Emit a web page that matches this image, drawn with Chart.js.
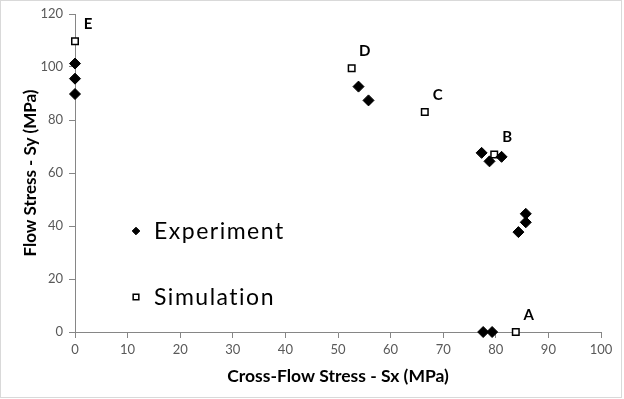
<!DOCTYPE html>
<html>
<head>
<meta charset="utf-8">
<script src="https://cdn.jsdelivr.net/npm/chart.js@4.4.0/dist/chart.umd.min.js"></script>
<style>
  html, body { margin: 0; padding: 0; background: #fff; }
  #wrap { position: relative; width: 624px; height: 399px; }
</style>
</head>
<body>
<div id="wrap"><canvas id="stressChart"></canvas></div>
<script>
// Experiment points (Sx, Sy in MPa)
const expX = [0, 0, 0, 53.9, 55.8, 77.3, 78.8, 81.1, 85.7, 85.7, 84.3, 77.6, 79.3];
const expY = [101.3, 95.6, 89.8, 92.6, 87.4, 67.6, 64.4, 66.1, 44.6, 41.4, 37.7, 0, 0];

// Simulation points, with their letter tags
const simX = [83.8, 79.7, 66.5, 52.6, 0];
const simY = [0, 67, 83, 99.5, 109.7];
const simTags = ['A', 'B', 'C', 'D', 'E'];

const seriesNames = ['Experiment', 'Simulation'];
const xTitle = 'Cross-Flow Stress - Sx (MPa)';
const yTitle = 'Flow Stress - Sy (MPa)';

const FONT = 'Lato';
const axisGray = '#868686';

const toPoints = (xs, ys) => xs.map((x, i) => ({ x: x, y: ys[i] }));

// letters next to simulation points
const tagPlugin = {
    id: 'tags',
    afterDatasetsDraw(chart) {
        const ctx = chart.ctx;
        const meta = chart.getDatasetMeta(1);
        ctx.save();
        ctx.fillStyle = '#000';
        ctx.font = 'bold 15px ' + FONT;
        ctx.textAlign = 'center';
        ctx.textBaseline = 'middle';
        meta.data.forEach((el, i) => {
            ctx.fillText(simTags[i], el.x + 13, el.y - 17);
        });
        ctx.restore();
    }
};

// legend sits inside the plot, left middle
const legendPlugin = {
    id: 'innerLegend',
    afterDraw(chart) {
        const ctx = chart.ctx;
        const area = chart.chartArea;
        const lx = area.left + 61;
        const rows = [area.top + 217, area.top + 283];
        ctx.save();
        chart.data.datasets.forEach((ds, i) => {
            ctx.fillStyle = ds.backgroundColor;
            ctx.strokeStyle = ds.borderColor;
            ctx.lineWidth = ds.borderWidth;
            Chart.helpers.drawPoint(ctx, {
                pointStyle: ds.pointStyle,
                radius: ds.legendRadius,
                borderWidth: ds.borderWidth,
                rotation: 0
            }, lx, rows[i]);
            ctx.fillStyle = '#000';
            ctx.font = '23px ' + FONT;
            ctx.letterSpacing = '1.5px';
            ctx.textAlign = 'left';
            ctx.textBaseline = 'middle';
            ctx.fillText(ds.label, lx + 18, rows[i] + 1);
        });
        ctx.restore();
    }
};

// thin frame round the whole chart
const framePlugin = {
    id: 'frame',
    beforeDraw(chart) {
        const ctx = chart.ctx;
        ctx.save();
        ctx.fillStyle = '#fff';
        ctx.fillRect(0, 0, chart.width, chart.height);
        ctx.strokeStyle = '#d9d9d9';
        ctx.lineWidth = 1;
        ctx.strokeRect(0.5, 0.5, 621, 397);
        ctx.restore();
    }
};

const ctx = document.getElementById('stressChart').getContext('2d');
const chart = new Chart(ctx, {
    type: 'scatter',
    data: {
        datasets: [{
            label: seriesNames[0],
            data: toPoints(expX, expY),
            pointStyle: 'rectRot',
            pointRadius: 5.5,
            legendRadius: 3.8,
            pointHoverRadius: 5.5,
            backgroundColor: '#000',
            borderColor: '#000',
            borderWidth: 1,
            clip: false
        }, {
            label: seriesNames[1],
            data: toPoints(simX, simY),
            pointStyle: 'rect',
            pointRadius: 4.6,
            legendRadius: 4,
            pointHoverRadius: 4.6,
            backgroundColor: '#fff',
            borderColor: '#000',
            borderWidth: 1.5,
            clip: false
        }]
    },
    options: {
        responsive: true,
        maintainAspectRatio: false,
        animation: false,
        events: [],
        layout: { padding: { top: 14, right: 23, bottom: 0, left: 0 } },
        plugins: {
            legend: { display: false },
            tooltip: { enabled: false }
        },
        scales: {
            x: {
                type: 'linear',
                min: 0,
                max: 100,
                afterFit(scale) { scale.height = 67; },
                ticks: {
                    stepSize: 10,
                    padding: 4,
                    color: '#595959',
                    font: { family: FONT, size: 13 },
                    maxRotation: 0
                },
                grid: {
                    display: true,
                    drawOnChartArea: false,
                    drawTicks: true,
                    tickLength: 6,
                    color: axisGray
                },
                border: { display: true, color: axisGray },
                title: {
                    display: true,
                    text: xTitle,
                    color: '#000',
                    font: { family: FONT, size: 17.5, weight: 'bold' },
                    padding: { top: 0, bottom: 12 }
                }
            },
            y: {
                type: 'linear',
                min: 0,
                max: 120,
                afterFit(scale) { scale.width = 75; },
                ticks: {
                    stepSize: 20,
                    padding: 6,
                    color: '#595959',
                    font: { family: FONT, size: 13 }
                },
                grid: {
                    display: true,
                    drawOnChartArea: false,
                    drawTicks: true,
                    tickLength: 6,
                    color: axisGray
                },
                border: { display: true, color: axisGray },
                title: {
                    display: true,
                    text: yTitle,
                    color: '#000',
                    font: { family: FONT, size: 17, weight: 'bold' },
                    padding: { top: 20, bottom: 0 }
                }
            }
        }
    },
    plugins: [framePlugin, tagPlugin, legendPlugin]
});
</script>
</body>
</html>
